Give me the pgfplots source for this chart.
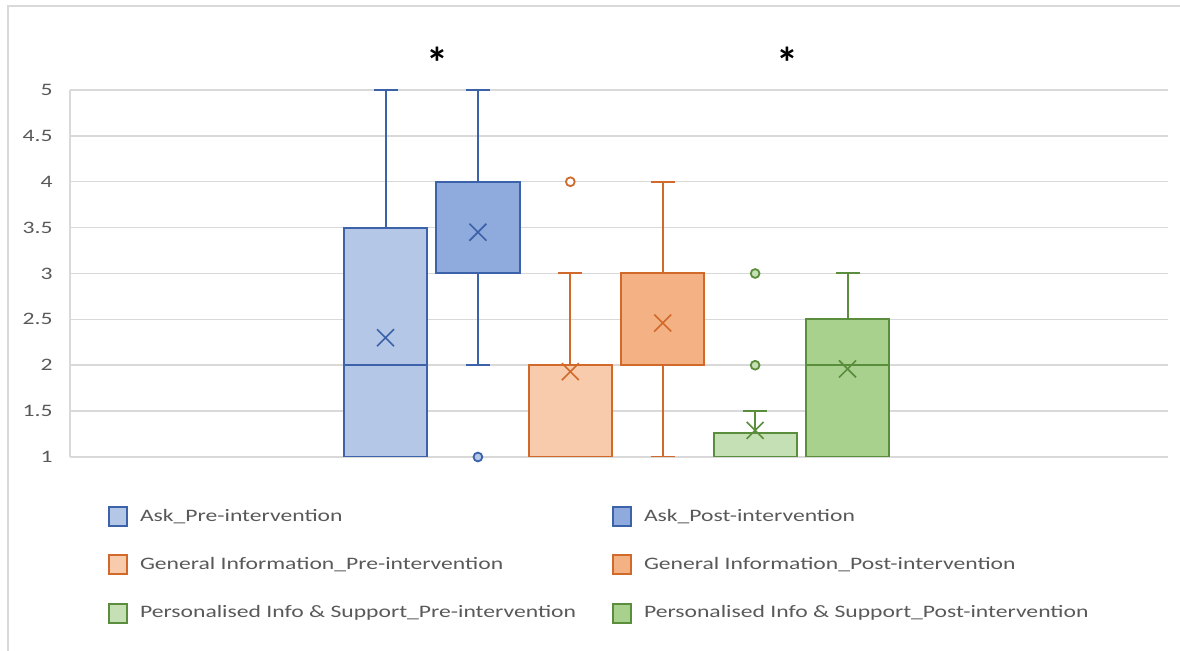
\documentclass[border=0pt]{standalone}
\usepackage{fontspec}
\setmainfont[FakeStretch=1.35]{Carlito}
\newfontfamily\starfont{Carlito}
\usepackage{pgfplots}
\usepgfplotslibrary{statistics}
\pgfplotsset{compat=1.18}
\definecolor{bEdge}{HTML}{3C62AA}
\definecolor{bPre}{HTML}{B4C7E7}
\definecolor{bPost}{HTML}{8FAADC}
\definecolor{oEdge}{HTML}{D0692A}
\definecolor{oPre}{HTML}{F8CBAD}
\definecolor{oPost}{HTML}{F4B183}
\definecolor{gEdge}{HTML}{5B8E3C}
\definecolor{gPre}{HTML}{C5E0B4}
\definecolor{gPost}{HTML}{A9D18E}
\definecolor{gridc}{HTML}{D9D9D9}
\definecolor{txt}{HTML}{595959}
\pgfplotsset{
  sq legend/.style={legend image code/.code={\draw[##1] (0.5pt,-4.75pt) rectangle (9.5pt,4.75pt); \path (15.5pt,0pt);}},
  bx/.style={line width=1pt, solid},
  mn/.style={only marks, mark=x, mark size=6pt, mark options={line width=0.8pt, solid}, forget plot},
}
\newcommand{\lf}{\fontsize{8.75}{10}\selectfont}
\begin{document}
\begin{tikzpicture}
\useasboundingbox (-35pt,-97pt) rectangle (555pt,228.5pt);
\draw[gridc, line width=1pt] (-30.75pt,-97pt) -- (-30.75pt,225.25pt) -- (555pt,225.25pt);
\begin{axis}[
  at={(0,0)}, anchor=south west,
  scale only axis, width=549pt, height=183.5pt,
  xmin=-2.4145, xmax=9.468, ymin=1, ymax=5,
  enlargelimits=false,
  boxplot/draw direction=y,
  axis x line=none, axis y line=left,
  y axis line style={draw=gridc, line width=0.75pt, -},
  xtick=\empty,
  ytick={1,1.5,2,2.5,3,3.5,4,4.5,5},
  major tick length=0pt,
  ymajorgrids, grid style={draw=gridc, line width=0.75pt},
  /pgf/number format/assume math mode=true,
  yticklabel style={font=\lf, text=txt, inner sep=0pt, xshift=-8.5pt},
  clip mode=individual,
  legend columns=2,
  legend cell align=left,
  legend style={draw=none, fill=none, inner sep=0pt, column sep=0pt, row sep=13.6pt,
    nodes={inner sep=0pt, text=txt, font=\lf},
    at={(0.0343,-0.133)}, anchor=north west},
]
% Ask pre
\addplot[bx, draw=bEdge, fill=bPre, forget plot, boxplot prepared={draw position=1, lower whisker=1, lower quartile=1, median=2, upper quartile=3.5, upper whisker=5, box extend=0.9, whisker extend=0.26}] coordinates {};
% Ask post
\addplot[bx, draw=bEdge, fill=bPost, forget plot, mark=*, mark size=2.2pt, mark options={draw=bEdge, fill=bPre, line width=0.9pt}, boxplot prepared={draw position=2, lower whisker=2, lower quartile=3, median=3, upper quartile=4, upper whisker=5, box extend=0.9, whisker extend=0.26}] coordinates {(0,1)};
% GI pre
\addplot[bx, draw=oEdge, fill=oPre, forget plot, mark=*, mark size=2.2pt, mark options={draw=oEdge, fill=white, line width=0.9pt}, boxplot prepared={draw position=3, lower whisker=1, lower quartile=1, median=2, upper quartile=2, upper whisker=3, box extend=0.9, whisker extend=0.26}] coordinates {(0,4)};
% GI post
\addplot[bx, draw=oEdge, fill=oPost, forget plot, boxplot prepared={draw position=4, lower whisker=1, lower quartile=2, median=2, upper quartile=3, upper whisker=4, box extend=0.9, whisker extend=0.26}] coordinates {};
% PIS pre
\addplot[bx, draw=gEdge, fill=gPre, forget plot, mark=*, mark size=2.2pt, mark options={draw=gEdge, fill=gPre, line width=0.9pt}, boxplot prepared={draw position=5, lower whisker=1, lower quartile=1, median=1, upper quartile=1.26, upper whisker=1.5, box extend=0.9, whisker extend=0.26}] coordinates {(0,2) (0,3)};
% PIS post
\addplot[bx, draw=gEdge, fill=gPost, forget plot, boxplot prepared={draw position=6, lower whisker=1, lower quartile=1, median=2, upper quartile=2.5, upper whisker=3, box extend=0.9, whisker extend=0.26}] coordinates {};
% means
\addplot[mn, draw=bEdge] coordinates {(1,2.30) (2,3.45)};
\addplot[mn, draw=oEdge] coordinates {(3,1.93) (4,2.46)};
\addplot[mn, draw=gEdge] coordinates {(5,1.29) (6,1.96)};
% legend
\addlegendimage{sq legend, draw=bEdge, fill=bPre, line width=1pt}
\addlegendentry{\makebox[236pt][l]{Ask\_Pre-intervention}}
\addlegendimage{sq legend, draw=bEdge, fill=bPost, line width=1pt}
\addlegendentry{Ask\_Post-intervention}
\addlegendimage{sq legend, draw=oEdge, fill=oPre, line width=1pt}
\addlegendentry{\makebox[236pt][l]{General Information\_Pre-intervention}}
\addlegendimage{sq legend, draw=oEdge, fill=oPost, line width=1pt}
\addlegendentry{General Information\_Post-intervention}
\addlegendimage{sq legend, draw=gEdge, fill=gPre, line width=1pt}
\addlegendentry{\makebox[236pt][l]{Personalised Info \& Support\_Pre-intervention}}
\addlegendimage{sq legend, draw=gEdge, fill=gPost, line width=1pt}
\addlegendentry{Personalised Info \& Support\_Post-intervention}
% significance
\node[font=\starfont\bfseries\fontsize{22}{22}\selectfont, inner sep=0pt] at (axis cs:1.557,5.30) {*};
\node[font=\starfont\bfseries\fontsize{22}{22}\selectfont, inner sep=0pt] at (axis cs:5.345,5.30) {*};
\end{axis}
\end{tikzpicture}
\end{document}
